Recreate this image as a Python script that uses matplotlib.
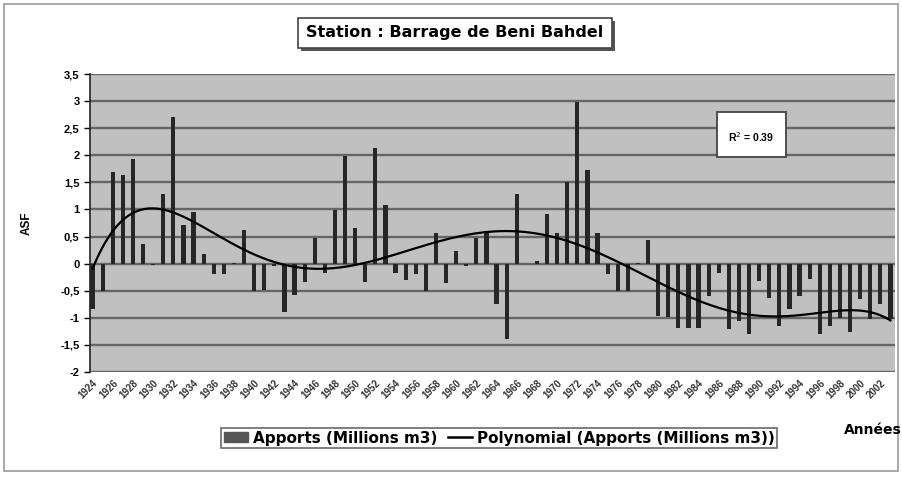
import numpy as np
import matplotlib
matplotlib.use("Agg")
import matplotlib.pyplot as plt
from matplotlib.patches import Rectangle
from matplotlib.lines import Line2D
from matplotlib.patches import Patch

plt.rcParams['font.family'] = ['Liberation Sans', 'DejaVu Sans']

years = list(range(1924, 2004))
apports = [-0.84, -0.50, 1.69, 1.63, 1.94, 0.37, -0.03, 1.29, 2.70, 0.71,
           0.96, 0.18, -0.20, -0.20, 0.02, 0.62, -0.50, -0.48, -0.05, -0.90,
           -0.57, -0.34, 0.47, -0.17, 0.99, 1.98, 0.65, -0.34, 2.14, 1.08,
           -0.17, -0.30, -0.20, -0.50, 0.56, -0.36, 0.23, -0.05, 0.47, 0.60,
           -0.75, -1.39, 1.28, 0.00, 0.05, 0.92, 0.56, 1.51, 2.99, 1.72,
           0.56, -0.20, -0.50, -0.50, 0.02, 0.44, -0.96, -0.98, -1.18, -1.18,
           -1.18, -0.60, -0.18, -1.21, -1.06, -1.30, -0.32, -0.63, -1.15, -0.84,
           -0.60, -0.29, -1.30, -1.16, -1.00, -1.27, -0.65, -1.03, -0.75, -1.03]
yticks = [3.5, 3, 2.5, 2, 1.5, 1, 0.5, 0, -0.5, -1, -1.5, -2]
ytick_labels = ["3,5", "3", "2,5", "2", "1,5", "1", "0,5", "0", "-0,5", "-1", "-1,5", "-2"]
title = "Station : Barrage de Beni Bahdel"
r2_text = "R$^{2}$ = 0.39"

W, H = 902, 479
fig = plt.figure(figsize=(W / 100, H / 100), dpi=100)
fig.patch.set_facecolor("white")

def fx(px):
    return px / W

def fy(py):
    return 1 - py / H

wide = ['DejaVu Sans']

# outer chart frame
fig.patches.append(Rectangle((fx(4), fy(471)), fx(894), (471 - 4) / H,
                             transform=fig.transFigure, fill=False,
                             edgecolor="#9a9a9a", lw=1.2))

ax = fig.add_axes([fx(90), fy(372), fx(895) - fx(90), (372 - 74) / H])
ax.set_facecolor("#c0c0c0")

x = np.arange(1, len(apports) + 1)
ax.bar(x, apports, width=0.42, color="#262626", zorder=3)

# polynomial trend (order 6) fitted to the data
xs = (x - x.mean()) / x.std()
coef = np.polyfit(xs, apports, 6)
xf = np.linspace(x[0], x[-1], 400)
yf = np.polyval(coef, (xf - x.mean()) / x.std())
ax.plot(xf, yf, color="black", lw=1.6, zorder=4)

ax.set_ylim(-2, 3.5)
ax.set_xlim(0.75, 80.45)
ax.set_yticks(yticks)
ax.set_yticklabels(ytick_labels, fontsize=8, fontweight="bold")
ax.yaxis.grid(True, color="#666666", lw=1.7, zorder=1)
ax.set_axisbelow(True)

ax.set_xticks(x[::2])
ax.set_xticklabels([str(y) for y in years[::2]], rotation=45, ha="right",
                   rotation_mode="anchor", fontsize=7, fontweight="bold",
                   color="#333333")
ax.tick_params(axis="x", length=0, pad=4)
ax.tick_params(axis="y", length=4, width=1, direction="out")

for s in ["top", "right", "bottom"]:
    ax.spines[s].set_visible(False)
ax.spines["left"].set_color("#222222")
ax.spines["left"].set_linewidth(1.2)

ax.set_ylabel("ASF", fontsize=8.5, fontweight="bold", labelpad=20)

# title box with shadow
tx0, ty0, tx1, ty1 = 298, 18, 612, 48
fig.patches.append(Rectangle((fx(tx0 + 3), fy(ty1 + 3)), fx(tx1 - tx0), (ty1 - ty0) / H,
                             transform=fig.transFigure, facecolor="#555555",
                             edgecolor="none", zorder=5))
fig.patches.append(Rectangle((fx(tx0), fy(ty1)), fx(tx1 - tx0), (ty1 - ty0) / H,
                             transform=fig.transFigure, facecolor="white",
                             edgecolor="#444444", lw=1.2, zorder=6))
fig.text(fx((tx0 + tx1) / 2), fy((ty0 + ty1) / 2), title, ha="center", va="center",
         fontsize=11.5, fontweight="bold", family=wide, zorder=7)

# R2 box
rx0, ry0, rx1, ry1 = 717, 112, 786, 157
fig.patches.append(Rectangle((fx(rx0), fy(ry1)), fx(rx1 - rx0), (ry1 - ry0) / H,
                             transform=fig.transFigure, facecolor="white",
                             edgecolor="#444444", lw=1.3, zorder=8))
fig.text(fx((rx0 + rx1) / 2), fy((ry0 + ry1) / 2 + 3), r2_text, ha="center", va="center",
         fontsize=7.5, fontweight="bold", zorder=9)

# legend
handles = [Patch(facecolor="#555555", edgecolor="#555555", label="Apports (Millions m3)"),
           Line2D([0], [0], color="black", lw=1.8, label="Polynomial (Apports (Millions m3))")]
leg = fig.legend(handles=handles, loc="center", bbox_to_anchor=(fx(499), fy(438)),
                 ncol=2, frameon=True, fancybox=False,
                 prop={"weight": "bold", "size": 11, "family": wide},
                 handlelength=1.6, handleheight=0.6,
                 handletextpad=0.3, columnspacing=0.7, borderpad=0.15)
leg.get_frame().set_edgecolor("#444444")
leg.get_frame().set_linewidth(1.2)

fig.text(fx(873), fy(430), "Années", ha="center", va="center", fontsize=10,
         fontweight="bold", family=wide)

fig.savefig("out.png", dpi=100)
